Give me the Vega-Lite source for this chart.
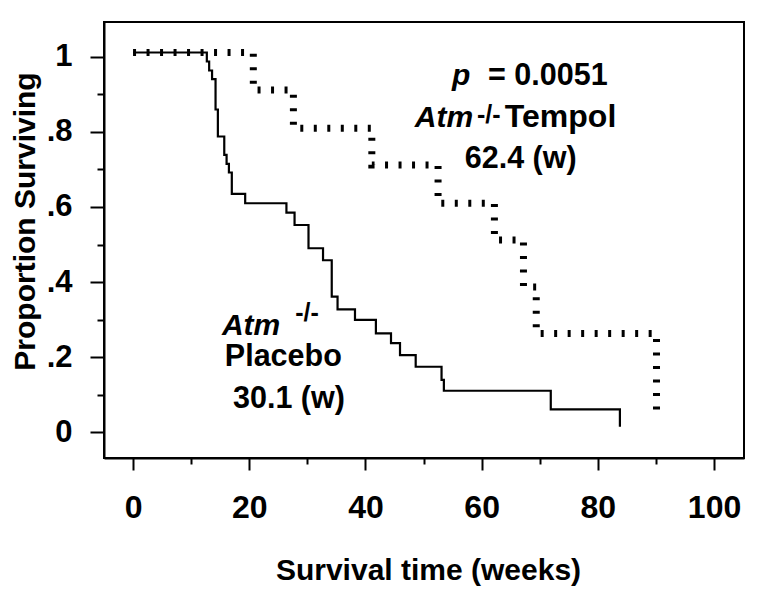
{
  "$schema": "https://vega.github.io/schema/vega-lite/v6.json",
  "width": 640,
  "height": 436,
  "autosize": {"type": "none"},
  "padding": {"left": 104, "top": 22, "right": 17, "bottom": 133},
  "background": "white",
  "config": {
    "view": {"stroke": "black", "strokeWidth": 2},
    "font": "Liberation Sans"
  },
  "datasets": {
    "curves": [
      {"group": "Placebo", "t": 0, "s": 1.012},
      {"group": "Placebo", "t": 12.7, "s": 0.988},
      {"group": "Placebo", "t": 13.1, "s": 0.964},
      {"group": "Placebo", "t": 13.6, "s": 0.941},
      {"group": "Placebo", "t": 14.2, "s": 0.86},
      {"group": "Placebo", "t": 14.6, "s": 0.788},
      {"group": "Placebo", "t": 15.7, "s": 0.739},
      {"group": "Placebo", "t": 16.1, "s": 0.715},
      {"group": "Placebo", "t": 16.5, "s": 0.692},
      {"group": "Placebo", "t": 17.0, "s": 0.635},
      {"group": "Placebo", "t": 19.3, "s": 0.61},
      {"group": "Placebo", "t": 26.4, "s": 0.585},
      {"group": "Placebo", "t": 27.8, "s": 0.552},
      {"group": "Placebo", "t": 30.2, "s": 0.49},
      {"group": "Placebo", "t": 32.7, "s": 0.458},
      {"group": "Placebo", "t": 34.2, "s": 0.361},
      {"group": "Placebo", "t": 35.2, "s": 0.327},
      {"group": "Placebo", "t": 38.2, "s": 0.299},
      {"group": "Placebo", "t": 41.8, "s": 0.263},
      {"group": "Placebo", "t": 44.4, "s": 0.237},
      {"group": "Placebo", "t": 45.95, "s": 0.205},
      {"group": "Placebo", "t": 48.65, "s": 0.174},
      {"group": "Placebo", "t": 53.1, "s": 0.139},
      {"group": "Placebo", "t": 53.5, "s": 0.11},
      {"group": "Placebo", "t": 71.9, "s": 0.0605},
      {"group": "Placebo", "t": 83.8, "s": 0.014},
      {"group": "Tempol", "t": 0, "s": 1.012},
      {"group": "Tempol", "t": 20.7, "s": 0.912},
      {"group": "Tempol", "t": 27.6, "s": 0.81},
      {"group": "Tempol", "t": 41.1, "s": 0.712},
      {"group": "Tempol", "t": 52.5, "s": 0.61},
      {"group": "Tempol", "t": 62.2, "s": 0.512},
      {"group": "Tempol", "t": 67.2, "s": 0.387},
      {"group": "Tempol", "t": 69.4, "s": 0.263},
      {"group": "Tempol", "t": 90.1, "s": 0.055}
    ],
    "italic": [
      {"label": "p", "t": 54.9, "s": 0.925},
      {"label": "Atm", "t": 48.5, "s": 0.813},
      {"label": "Atm", "t": 15.3, "s": 0.259}
    ],
    "sup": [
      {"label": "-/-", "t": 59.2, "s": 0.823},
      {"label": "-/-", "t": 27.9, "s": 0.295}
    ],
    "plain": [
      {"label": "= 0.0051", "t": 61.1, "s": 0.925},
      {"label": "62.4 (w)", "t": 57.1, "s": 0.704},
      {"label": "Placebo", "t": 15.8, "s": 0.176},
      {"label": "30.1 (w)", "t": 17.2, "s": 0.064}
    ],
    "big": [
      {"label": "Tempol", "t": 64.0, "s": 0.813}
    ]
  },
  "layer": [
    {
      "data": {"name": "curves"},
      "transform": [{"filter": "datum.group === 'Placebo'"}],
      "mark": {"type": "line", "interpolate": "step-after", "color": "black", "strokeWidth": 2.2},
      "encoding": {
        "x": {
          "field": "t", "type": "quantitative",
          "scale": {"domain": [-5, 105.16], "nice": false, "zero": false},
          "axis": {
            "title": "Survival time (weeks)",
            "values": [0, 10, 20, 30, 40, 50, 60, 70, 80, 90, 100],
            "format": "d",
            "labelExpr": "datum.value % 20 === 0 ? datum.label : ''",
            "grid": false,
            "domainColor": "black", "domainWidth": 2,
            "tickColor": "black", "tickWidth": 2,
            "tickSize": {"condition": {"test": "datum.value % 20 === 0", "value": 12}, "value": 6},
            "labelFont": "Liberation Sans", "labelFontSize": 32, "labelFontWeight": "bold", "labelColor": "black",
            "labelBaseline": "alphabetic", "labelPadding": 47,
            "labelFlush": false, "labelOverlap": false,
            "titleFont": "Liberation Sans", "titleFontSize": 30, "titleFontWeight": "bold", "titleColor": "black",
            "titleX": 324, "titleY": 121, "titleBaseline": "alphabetic", "titleAlign": "center"
          }
        },
        "y": {
          "field": "s", "type": "quantitative",
          "scale": {"domain": [-0.0693, 1.0933], "nice": false, "zero": false},
          "axis": {
            "title": "Proportion Surviving",
            "values": [0, 0.1, 0.2, 0.3, 0.4, 0.5, 0.6, 0.7, 0.8, 0.9, 1],
            "labelExpr": "datum.value === 0 ? '0' : datum.value === 1 ? '1' : (round(datum.value*10) % 2 === 0 ? '.' + round(datum.value*10) : '')",
            "grid": false,
            "domainColor": "black", "domainWidth": 2,
            "tickColor": "black", "tickWidth": 2,
            "tickSize": {"condition": {"test": "round(datum.value*10) % 2 === 0", "value": 14}, "value": 7},
            "labelFont": "Liberation Sans", "labelFontSize": 31, "labelFontWeight": "bold", "labelColor": "black",
            "labelBaseline": "middle", "labelAlign": "right", "labelPadding": 18,
            "labelFlush": false, "labelOverlap": false,
            "titleFont": "Liberation Sans", "titleFontSize": 30, "titleFontWeight": "bold", "titleColor": "black",
            "titleAngle": -90, "titleX": -70, "titleY": 199, "titleBaseline": "alphabetic", "titleAlign": "center"
          }
        }
      }
    },
    {
      "data": {"name": "curves"},
      "transform": [{"filter": "datum.group === 'Tempol'"}],
      "mark": {"type": "line", "interpolate": "step-after", "color": "black", "strokeWidth": 7, "strokeDash": [3, 10.5], "strokeCap": "butt"},
      "encoding": {
        "x": {"field": "t", "type": "quantitative"},
        "y": {"field": "s", "type": "quantitative"}
      }
    },
    {
      "data": {"name": "italic"},
      "mark": {"type": "text", "align": "left", "baseline": "alphabetic", "font": "Liberation Sans", "fontSize": 30, "fontWeight": "bold", "fontStyle": "italic", "color": "black"},
      "encoding": {
        "x": {"field": "t", "type": "quantitative"},
        "y": {"field": "s", "type": "quantitative"},
        "text": {"field": "label"}
      }
    },
    {
      "data": {"name": "sup"},
      "mark": {"type": "text", "align": "left", "baseline": "alphabetic", "font": "Liberation Sans", "fontSize": 25, "fontWeight": "bold", "color": "black"},
      "encoding": {
        "x": {"field": "t", "type": "quantitative"},
        "y": {"field": "s", "type": "quantitative"},
        "text": {"field": "label"}
      }
    },
    {
      "data": {"name": "plain"},
      "mark": {"type": "text", "align": "left", "baseline": "alphabetic", "font": "Liberation Sans", "fontSize": 30.5, "fontWeight": "bold", "color": "black"},
      "encoding": {
        "x": {"field": "t", "type": "quantitative"},
        "y": {"field": "s", "type": "quantitative"},
        "text": {"field": "label"}
      }
    },
    {
      "data": {"name": "big"},
      "mark": {"type": "text", "align": "left", "baseline": "alphabetic", "font": "Liberation Sans", "fontSize": 32, "fontWeight": "bold", "color": "black"},
      "encoding": {
        "x": {"field": "t", "type": "quantitative"},
        "y": {"field": "s", "type": "quantitative"},
        "text": {"field": "label"}
      }
    }
  ]
}
